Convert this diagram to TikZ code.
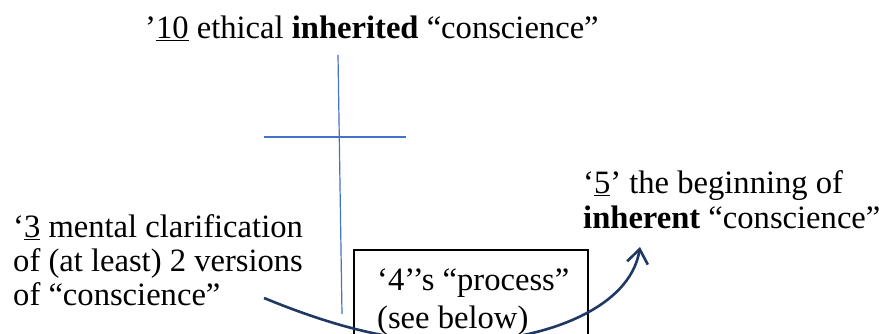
\documentclass[tikz,border=0pt]{standalone}
\usepackage{fontspec}
\setmainfont{Liberation Serif}
\usetikzlibrary{arrows.meta}
\definecolor{crossblue}{HTML}{4472C4}
\definecolor{navyarc}{HTML}{1F3864}
\tikzset{
  txt/.style={inner sep=0pt, anchor=base west, font=\fontsize{32.6}{35}\selectfont},
  crossline/.style={draw=crossblue, line width=1.2pt},
  boxframe/.style={draw=black, line width=1.6pt, inner sep=0pt, anchor=north west},
  conn/.style={draw=navyarc, line width=2.6pt, -{Straight Barb[length=14pt,width=21pt]}}
}
\begin{document}
\begin{tikzpicture}[x=1pt,y=-1pt]
\useasboundingbox (0,0) rectangle (879,333);
\clip (0,0) rectangle (879,333);
% top label
\node[txt] (t10) at (145,38) {’\underline{10} ethical \textbf{inherited} “conscience”};
% cross
\coordinate (vtop) at (338,55);
\coordinate (vbot) at (342,314);
\coordinate (hl) at (264,137);
\coordinate (hr) at (406,137);
\draw[crossline] (vtop) -- (vbot);
\draw[crossline] (hl) -- (hr);
% left label
\node[txt] (t3a) at (13,237) {‘\underline{3} mental clarification};
\node[txt] (t3b) at (13,271) {of (at least) 2 versions};
\node[txt] (t3c) at (13,305) {of “conscience”};
% right label
\node[txt] (t5a) at (583,193) {‘\underline{5}’ the beginning of};
\node[txt] (t5b) at (583,228) {\textbf{inherent} “conscience”};
% box
\node[boxframe, minimum width=234pt, minimum height=110pt] (box) at (353,249) {};
\node[txt] (t4a) at (377,290) {‘4’’s “process”};
\node[txt] (t4b) at (377,328) {(see below)};
% curved arrow
\coordinate (c3) at (264,298);
\coordinate (c5) at (640,247);
\draw[conn] (c3) .. controls (330,325) and (390,342) .. (455,342)
                 .. controls (540,342) and (630,310) .. (c5);
\end{tikzpicture}
\end{document}
